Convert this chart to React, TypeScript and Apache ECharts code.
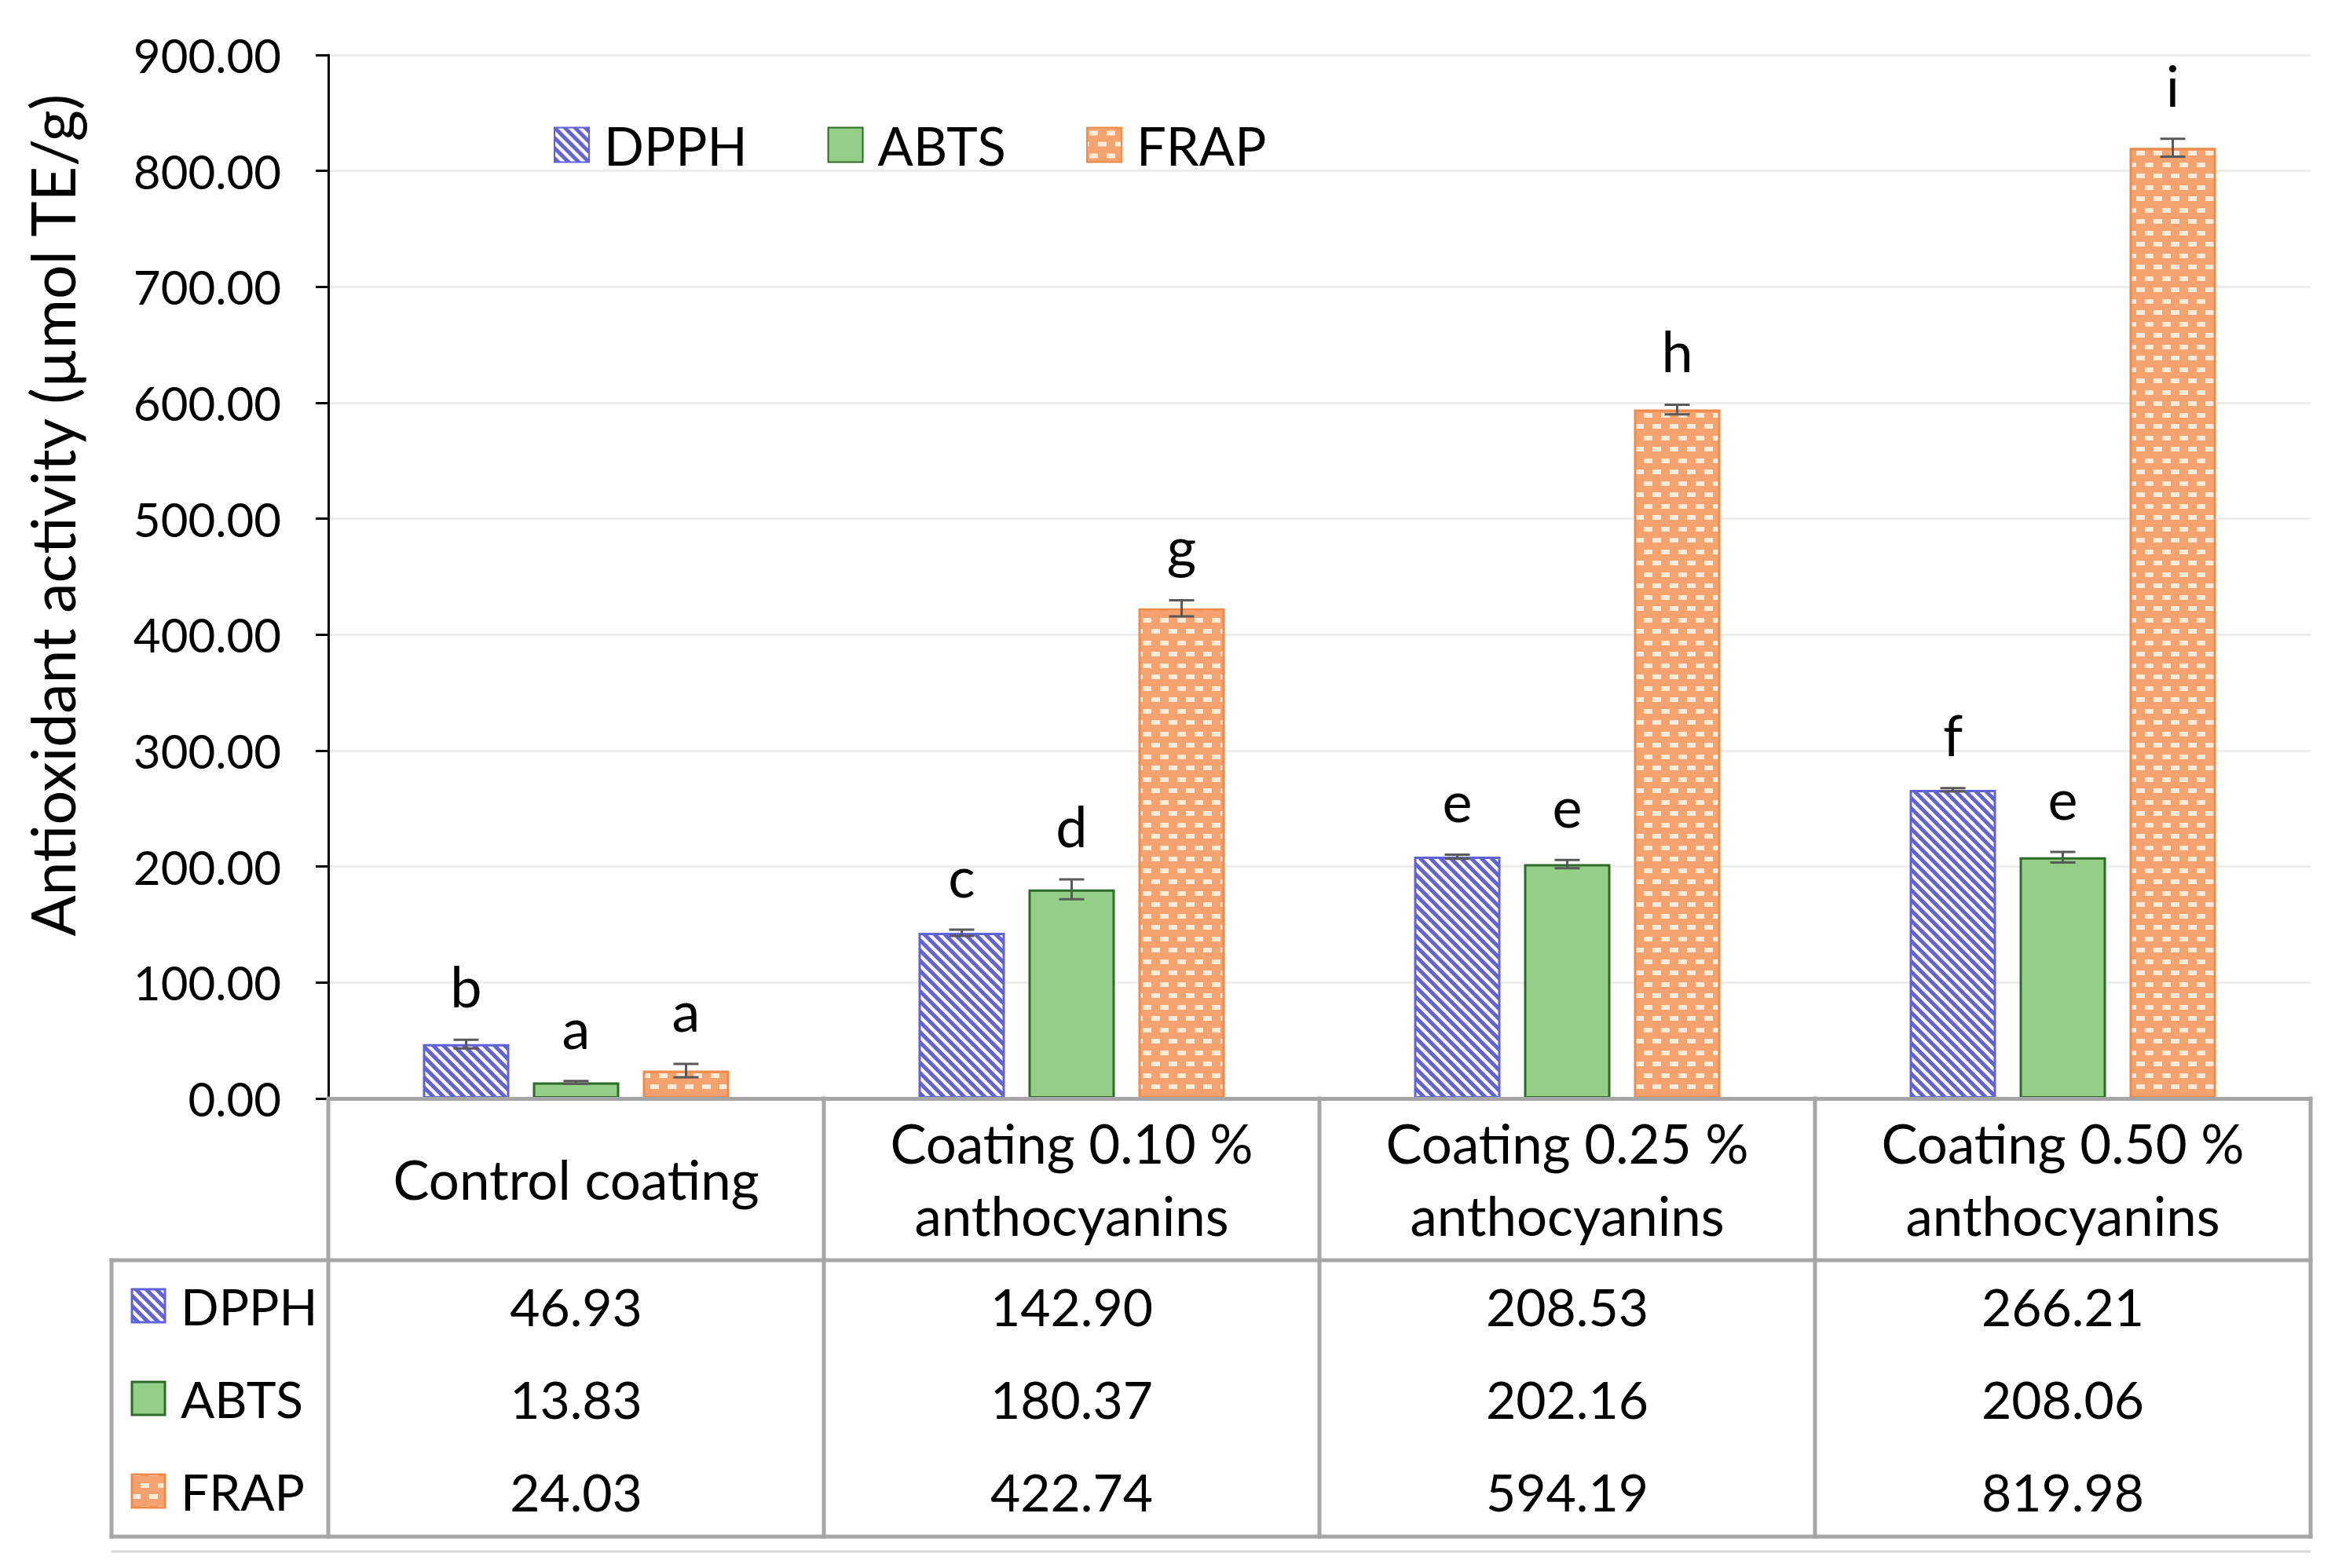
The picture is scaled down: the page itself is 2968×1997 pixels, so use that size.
import React, { useEffect, useRef } from 'react';
import * as echarts from 'echarts';

// ---------- data ----------
const categories = [
  'Control coating',
  'Coating 0.10 %\nanthocyanins',
  'Coating 0.25 %\nanthocyanins',
  'Coating 0.50 %\nanthocyanins',
];
const seriesNames = ['DPPH', 'ABTS', 'FRAP'];
const dpphValues = [46.93, 142.9, 208.53, 266.21];
const abtsValues = [13.83, 180.37, 202.16, 208.06];
const frapValues = [24.03, 422.74, 594.19, 819.98];
const dpphErrors = [3.7, 2.7, 1.8, 1.5];
const abtsErrors = [1.2, 8.5, 3.6, 4.5];
const frapErrors = [5.8, 7.0, 4.2, 7.7];
const dpphLetters = ['b', 'c', 'e', 'f'];
const abtsLetters = ['a', 'd', 'e', 'e'];
const frapLetters = ['a', 'g', 'h', 'i'];
const yMin = 0;
const yMax = 900;
const yInterval = 100;
const yTitle = 'Antioxidant activity (µmol TE/g)';

// ---------- style constants ----------
const W = 2968;
const H = 1997;
const FONT = 'Lato, "Open Sans", sans-serif';
const GRID_LEFT = 418;
const GRID_RIGHT_X = 2942;
const GRID_TOP = 70;
const GRID_BOTTOM_Y = 1399;
const TABLE_LEFT = 142;
const HEADER_BOTTOM = 1605;
const TABLE_BOTTOM = 1957;
const ROW_CENTERS = [1663, 1781, 1899];
const BAR_W = 110;
const BAR_GAP = 30;
const BLUE = '#6262D8';
const GREEN = '#93CF86';
const GREEN_BORDER = '#2E6B2B';
const ORANGE = '#F5A26E';
const ORANGE_BORDER = '#F08A4B';
const DASH = '#FDEBDA';
const TABLE_GRAY = '#A6A6A6';
const ERR_COLOR = '#595959';

function makeStripe() {
  const T = 13;
  const c = document.createElement('canvas');
  c.width = T;
  c.height = T;
  const ctx = c.getContext('2d')!;
  ctx.fillStyle = '#ffffff';
  ctx.fillRect(0, 0, T, T);
  ctx.strokeStyle = BLUE;
  ctx.lineWidth = 5;
  for (const k of [-T, 0, T]) {
    ctx.beginPath();
    ctx.moveTo(k - 4, -4);
    ctx.lineTo(k + T + 4, T + 4);
    ctx.stroke();
  }
  return { image: c, repeat: 'repeat', imageWidth: T, imageHeight: T };
}

function makeDots() {
  const TW = 22;
  const TH = 29;
  const c = document.createElement('canvas');
  c.width = TW;
  c.height = TH;
  const ctx = c.getContext('2d')!;
  ctx.fillStyle = ORANGE;
  ctx.fillRect(0, 0, TW, TH);
  ctx.fillStyle = DASH;
  ctx.fillRect(3, 4, 11, 6);
  ctx.fillRect(14, 18, 8, 6);
  ctx.fillRect(0, 18, 3, 6);
  return { image: c, repeat: 'repeat', imageWidth: TW, imageHeight: TH };
}

export default function App() {
  const ref = useRef<HTMLDivElement>(null);

  useEffect(() => {
    document.body.style.margin = '0';
    document.body.style.overflow = 'hidden';
    const chart = echarts.init(ref.current!, null, { renderer: 'svg', width: W, height: H });

    const stripe = makeStripe();
    const dots = makeDots();

    const values = [dpphValues, abtsValues, frapValues];
    const errors = [dpphErrors, abtsErrors, frapErrors];
    const letters = [dpphLetters, abtsLetters, frapLetters];
    const fills: any[] = [stripe, GREEN, dots];
    const borders = [BLUE, GREEN_BORDER, ORANGE_BORDER];

    const barSeries = seriesNames.map((name, s) => ({
      name,
      type: 'bar',
      data: values[s],
      barWidth: BAR_W,
      barGap: `${(BAR_GAP / BAR_W) * 100}%`,
      itemStyle: { color: fills[s], borderColor: borders[s], borderWidth: 3 },
      z: 2,
    }));

    const errSeries = seriesNames.map((name, s) => ({
      name: name + ' error',
      type: 'custom',
      z: 5,
      clip: false,
      data: categories.map((_, i) => [i, values[s][i], errors[s][i]]),
      encode: { x: 0, y: 1 },
      renderItem: (params: any, api: any) => {
        const i = params.dataIndex;
        const cat = api.value(0);
        const v = api.value(1);
        const e = api.value(2);
        const x = api.coord([cat, v])[0] + (s - 1) * (BAR_W + BAR_GAP);
        const yTop = api.coord([cat, v + e])[1];
        const yBot = api.coord([cat, v - e])[1];
        const half = 16;
        const ls = { stroke: ERR_COLOR, lineWidth: 3 };
        return {
          type: 'group',
          children: [
            { type: 'line', shape: { x1: x, y1: yTop, x2: x, y2: yBot }, style: ls },
            { type: 'line', shape: { x1: x - half, y1: yTop, x2: x + half, y2: yTop }, style: ls },
            { type: 'line', shape: { x1: x - half, y1: yBot, x2: x + half, y2: yBot }, style: ls },
            {
              type: 'text',
              x,
              y: yTop - 33,
              style: {
                text: letters[s][i],
                fill: '#000',
                fontSize: 72,
                fontFamily: FONT,
                align: 'center',
                textAlign: 'center',
                verticalAlign: 'bottom',
                textVerticalAlign: 'bottom',
              },
            },
          ],
        };
      },
    }));

    // ----- data table drawn with graphics -----
    const catW = (GRID_RIGHT_X - GRID_LEFT) / categories.length;
    const tableLine = (x1: number, y1: number, x2: number, y2: number, color = TABLE_GRAY, w = 5) => ({
      type: 'line',
      shape: { x1, y1, x2, y2 },
      style: { stroke: color, lineWidth: w, lineCap: 'square' },
      z: 10,
    });
    const graphics: any[] = [];
    for (let k = 0; k <= categories.length; k++) {
      const x = GRID_LEFT + k * catW;
      graphics.push(tableLine(x, GRID_BOTTOM_Y, x, TABLE_BOTTOM));
    }
    graphics.push(tableLine(TABLE_LEFT, HEADER_BOTTOM, GRID_RIGHT_X, HEADER_BOTTOM));
    graphics.push(tableLine(TABLE_LEFT, TABLE_BOTTOM, GRID_RIGHT_X, TABLE_BOTTOM));
    graphics.push(tableLine(TABLE_LEFT, HEADER_BOTTOM, TABLE_LEFT, TABLE_BOTTOM));
    graphics.push({
      type: 'line',
      shape: { x1: TABLE_LEFT, y1: 1976, x2: GRID_RIGHT_X, y2: 1976 },
      style: { stroke: '#D9D9D9', lineWidth: 3 },
      z: 10,
    });
    seriesNames.forEach((name, s) => {
      const cy = ROW_CENTERS[s];
      graphics.push({
        type: 'rect',
        shape: { x: 168, y: cy - 21, width: 42, height: 42 },
        style: { fill: fills[s], stroke: borders[s], lineWidth: 3 },
        z: 10,
      });
      graphics.push({
        type: 'text',
        x: 230,
        y: cy,
        style: {
          text: name,
          fill: '#000',
          fontSize: 64,
          fontFamily: FONT,
          align: 'left',
          textAlign: 'left',
          verticalAlign: 'middle',
          textVerticalAlign: 'middle',
        },
        z: 10,
      });
      values[s].forEach((v, i) => {
        graphics.push({
          type: 'text',
          x: GRID_LEFT + (i + 0.5) * catW,
          y: cy,
          style: {
            text: v.toFixed(2),
            fill: '#000',
            fontSize: 66,
            fontFamily: FONT,
            align: 'center',
            textAlign: 'center',
            verticalAlign: 'middle',
            textVerticalAlign: 'middle',
          },
          z: 10,
        });
      });
    });
    graphics.push({
      type: 'text',
      x: 66,
      y: 656,
      rotation: Math.PI / 2,
      style: {
        text: yTitle,
        fill: '#000',
        fontSize: 77,
        fontFamily: FONT,
        align: 'center',
        textAlign: 'center',
        verticalAlign: 'middle',
        textVerticalAlign: 'middle',
      },
    });

    chart.setOption({
      animation: false,
      backgroundColor: '#ffffff',
      grid: {
        left: GRID_LEFT,
        right: W - GRID_RIGHT_X,
        top: GRID_TOP,
        bottom: H - GRID_BOTTOM_Y,
        containLabel: false,
      },
      legend: {
        data: seriesNames,
        left: 700,
        top: 146,
        icon: 'rect',
        itemWidth: 44,
        itemHeight: 44,
        itemGap: 102,
        textStyle: { fontSize: 67, fontFamily: FONT, color: '#000', padding: [0, 0, 0, 14] },
      },
      xAxis: {
        type: 'category',
        data: categories,
        axisLine: { show: true, lineStyle: { color: TABLE_GRAY, width: 5 } },
        axisTick: { show: false },
        splitLine: { show: false },
        axisLabel: {
          interval: 0,
          margin: 102,
          verticalAlign: 'middle',
          fontSize: 69,
          lineHeight: 92,
          fontFamily: FONT,
          color: '#000',
        },
        z: 10,
      },
      yAxis: {
        type: 'value',
        min: yMin,
        max: yMax,
        interval: yInterval,
        axisLine: { show: true, lineStyle: { color: '#000', width: 3 } },
        axisTick: { show: true, length: 16, lineStyle: { color: '#000', width: 3 } },
        axisLabel: {
          formatter: (v: number) => v.toFixed(2),
          fontSize: 60,
          fontFamily: FONT,
          color: '#000',
          margin: 60,
        },
        splitLine: { show: true, lineStyle: { color: '#EDEDED', width: 3 } },
      },
      graphic: graphics,
      series: [...barSeries, ...errSeries],
    } as any);

    return () => chart.dispose();
  }, []);

  return (
    <div
      ref={ref}
      style={{ position: 'absolute', left: 0, top: 0, width: W, height: H, background: '#fff' }}
    />
  );
}
